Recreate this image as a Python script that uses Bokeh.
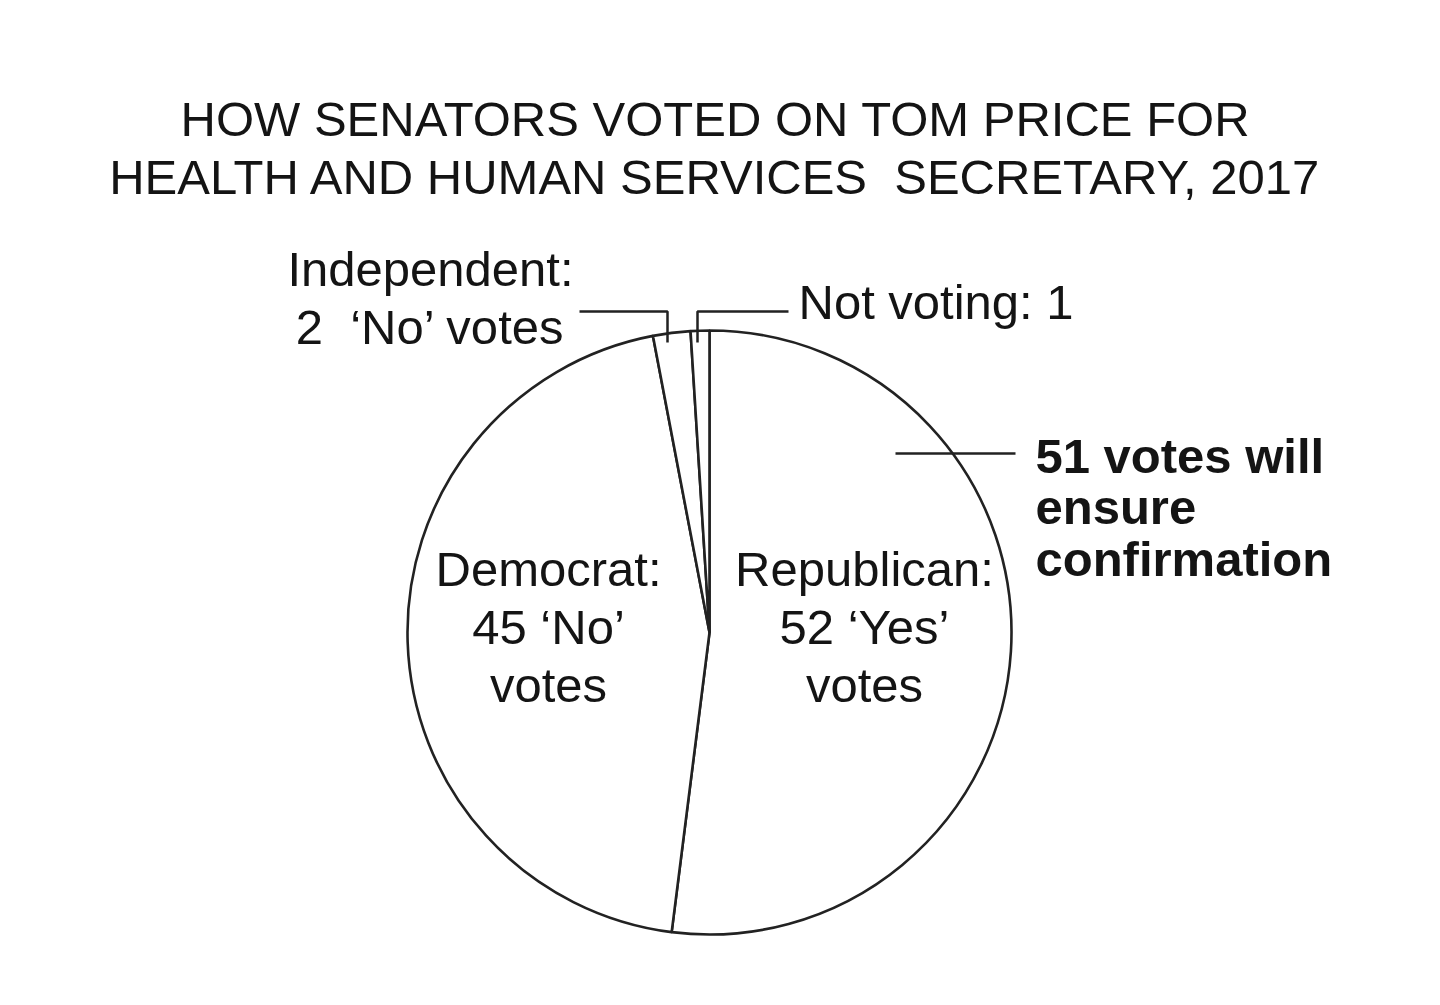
import math
from bokeh.plotting import figure
from bokeh.models import Range1d
from bokeh.core.properties import value
from bokeh.embed import file_html
from bokeh.resources import INLINE

# ---- data ----
parties = ["Republican", "Democrat", "Independent", "Not voting"]
votes = [52, 45, 2, 1]
vote_kind = ["Yes", "No", "No", ""]
needed = 51
title_lines = ["HOW SENATORS VOTED ON TOM PRICE FOR",
               "HEALTH AND HUMAN SERVICES \u00a0SECRETARY, 2017"]

# ---- layout (pixel space, y measured from top) ----
W, H = 1440, 1005
CX, CY, R = 709, 632, 302
FONT = value("Liberation Sans")
FS = "49px"
INK = "#141414"
LINE = "#222222"
DY = -17  # baseline correction


def Y(y):
    return H - (y + DY)


def YL(y):
    return H - y


p = figure(width=W, height=H, output_backend="svg", toolbar_location=None,
           x_range=Range1d(0, W), y_range=Range1d(0, H),
           x_axis_location=None, y_axis_location=None, min_border=0)
p.outline_line_color = None
p.background_fill_color = "white"
p.border_fill_color = "white"
p.xgrid.grid_line_color = None
p.ygrid.grid_line_color = None

# ---- pie slices: clockwise from 12 o'clock ----
total = sum(votes)
starts, ends = [], []
cum = 0
for v in votes:
    a0 = math.pi / 2 - 2 * math.pi * cum / total
    cum += v
    a1 = math.pi / 2 - 2 * math.pi * cum / total
    starts.append(a1)
    ends.append(a0)

p.wedge(x=[CX] * len(votes), y=[YL(CY)] * len(votes), radius=R,
        start_angle=starts, end_angle=ends, direction="anticlock",
        fill_color="white", line_color=LINE, line_width=2.6)

# ---- title ----
p.text(x=[715, 715], y=[Y(135), Y(193)], text=title_lines,
       text_font=FONT, text_font_size=FS, text_color=INK,
       text_align="center", text_baseline="alphabetic")

# ---- in-slice labels ----
rep_lines = [f"{parties[0]}:", f"{votes[0]} \u2018{vote_kind[0]}\u2019", "votes"]
dem_lines = [f"{parties[1]}:", f"{votes[1]} \u2018{vote_kind[1]}\u2019", "votes"]
base = [585, 643, 701]
p.text(x=[864] * 3, y=[Y(b) for b in base], text=rep_lines,
       text_font=FONT, text_font_size=FS, text_color=INK,
       text_align="center", text_baseline="alphabetic")
p.text(x=[548] * 3, y=[Y(b) for b in base], text=dem_lines,
       text_font=FONT, text_font_size=FS, text_color=INK,
       text_align="center", text_baseline="alphabetic")

# ---- outside labels ----
ind_lines = [f"{parties[2]}:", f"{votes[2]} \u00a0\u2018{vote_kind[2]}\u2019 votes"]
p.text(x=[430, 430], y=[Y(285), Y(343)], text=ind_lines,
       text_font=FONT, text_font_size=FS, text_color=INK,
       text_align="center", text_baseline="alphabetic")
p.text(x=[798], y=[Y(318)], text=[f"{parties[3]}: {votes[3]}"],
       text_font=FONT, text_font_size=FS, text_color=INK,
       text_align="left", text_baseline="alphabetic")
bold_lines = [f"{needed} votes will", "ensure", "confirmation"]
p.text(x=[1035] * 3, y=[Y(472), Y(523), Y(575)], text=bold_lines,
       text_font=FONT, text_font_size=FS, text_font_style="bold",
       text_color=INK, text_align="left", text_baseline="alphabetic")

# ---- leader lines ----
p.line(x=[579, 667, 667], y=[YL(311), YL(311), YL(342)], line_color=LINE, line_width=2.5)
p.line(x=[788, 697, 697], y=[YL(311), YL(311), YL(342)], line_color=LINE, line_width=2.5)
p.line(x=[895, 1015], y=[YL(453), YL(453)], line_color=LINE, line_width=2.5)

open("out.html", "w").write(file_html(p, INLINE))
